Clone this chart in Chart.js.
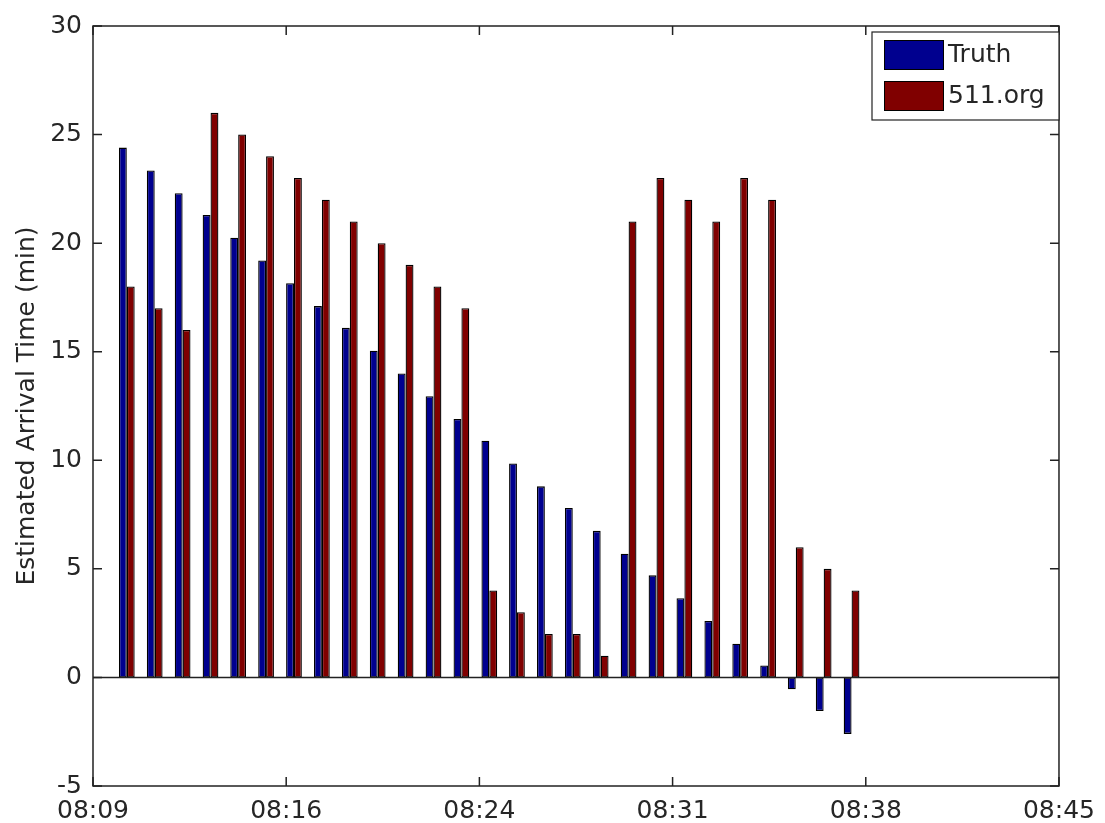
<!DOCTYPE html>
<html><head><meta charset="utf-8">
<script src="https://cdn.jsdelivr.net/npm/chart.js@4/dist/chart.umd.min.js"></script>
<style>html,body{margin:0;padding:0;background:#fff}#wrap{width:1105px;height:823px;position:relative}</style>
</head><body><div id="wrap"><canvas id="c"></canvas></div>
<script>
// minutes after 08:09 for each observation
const minutesAfter0809 = [1.26, 2.30, 3.34, 4.38, 5.41, 6.45, 7.49, 8.53, 9.57, 10.61, 11.65, 12.69, 13.73, 14.77, 15.80, 16.84, 17.88, 18.92, 19.96, 21.00, 22.04, 23.08, 24.12, 25.16, 26.19, 27.23, 28.27];
const truth = [24.4, 23.35, 22.3, 21.3, 20.25, 19.2, 18.15, 17.1, 16.1, 15.05, 14.0, 12.95, 11.9, 10.9, 9.85, 8.8, 7.8, 6.75, 5.7, 4.7, 3.65, 2.6, 1.55, 0.55, -0.55, -1.55, -2.6];
const org511 = [18, 17, 16, 26, 25, 24, 23, 22, 21, 20, 19, 18, 17, 4, 3, 2, 2, 1, 21, 23, 22, 21, 23, 22, 6, 5, 4];
const seriesNames = ['Truth', '511.org'];
const seriesColors = ['#00008f', '#800000'];
const xTickValues = [0, 7.2, 14.4, 21.6, 28.8, 36];
const xTickLabels = ['08:09', '08:16', '08:24', '08:31', '08:38', '08:45'];
const yMin = -5, yMax = 30, yStep = 5;
const yTitle = 'Estimated Arrival Time (min)';

const FONT = 'DejaVu Sans';
const TXT = '#262626';

const framePlugin = {
  id: 'frame',
  afterDatasetsDraw(chart) {
    const {ctx, chartArea: a, scales: {x, y}} = chart;
    ctx.save();
    const y0 = y.getPixelForValue(0);
    ctx.strokeStyle = '#222';
    ctx.lineWidth = 1.5;
    ctx.beginPath(); ctx.moveTo(a.left, y0); ctx.lineTo(a.right, y0); ctx.stroke();
    ctx.strokeRect(a.left, a.top, a.right - a.left, a.bottom - a.top);
    const L = 9;
    ctx.beginPath();
    y.ticks.forEach(t => {
      const py = y.getPixelForValue(t.value);
      ctx.moveTo(a.left, py); ctx.lineTo(a.left + L, py);
      ctx.moveTo(a.right, py); ctx.lineTo(a.right - L, py);
    });
    x.ticks.forEach(t => {
      const px = x.getPixelForValue(t.value);
      ctx.moveTo(px, a.bottom); ctx.lineTo(px, a.bottom - L);
      ctx.moveTo(px, a.top); ctx.lineTo(px, a.top + L);
    });
    ctx.stroke();
    // legend
    const bx = 872, by = 32, bw = 187, bh = 88;
    ctx.fillStyle = '#fff';
    ctx.fillRect(bx, by, bw, bh);
    ctx.lineWidth = 1.2;
    ctx.strokeStyle = '#222';
    ctx.strokeRect(bx, by, bw, bh);
    ctx.font = '25px "' + FONT + '"';
    ctx.textBaseline = 'middle';
    chart.data.datasets.forEach((ds, i) => {
      const sy = 40 + i * 41;
      ctx.fillStyle = ds.backgroundColor;
      ctx.fillRect(884, sy, 60, 30);
      ctx.lineWidth = 1;
      ctx.strokeStyle = '#000';
      ctx.strokeRect(884.5, sy + 0.5, 59, 29);
      ctx.fillStyle = TXT;
      ctx.fillText(ds.label, 948, sy + 15);
    });
    ctx.restore();
  }
};

new Chart(document.getElementById('c'), {
  type: 'bar',
  data: {
    datasets: [
      {label: seriesNames[0], data: minutesAfter0809.map((m, i) => ({x: m, y: truth[i]})), backgroundColor: seriesColors[0], borderColor: '#000', borderWidth: 1.3, borderSkipped: false},
      {label: seriesNames[1], data: minutesAfter0809.map((m, i) => ({x: m, y: org511[i]})), backgroundColor: seriesColors[1], borderColor: '#000', borderWidth: 1.3, borderSkipped: false}
    ]
  },
  options: {
    responsive: true,
    maintainAspectRatio: false,
    animation: false,
    categoryPercentage: 0.57,
    barPercentage: 1.0,
    layout: {padding: {left: 0, right: 39, top: 22, bottom: 0}},
    plugins: {legend: {display: false}, tooltip: {enabled: false}},
    scales: {
      x: {
        type: 'linear', min: 0, max: 36, offset: false,
        grid: {display: false, drawTicks: false, offset: false},
        border: {display: false},
        afterBuildTicks: s => { s.ticks = xTickValues.map(v => ({value: v})); },
        afterFit: s => { s.height = 37; },
        ticks: {
          autoSkip: false, maxRotation: 0, padding: 10, color: TXT,
          font: {family: FONT, size: 25},
          callback: (v, i) => xTickLabels[i]
        }
      },
      y: {
        min: yMin, max: yMax,
        grid: {display: false, drawTicks: false},
        border: {display: false},
        afterFit: s => { s.width = 93; },
        ticks: {stepSize: yStep, padding: 11, color: TXT, font: {family: FONT, size: 25}},
        title: {display: true, text: yTitle, color: TXT, font: {family: FONT, size: 25}, padding: {top: 12, bottom: 0}}
      }
    }
  },
  plugins: [framePlugin]
});
</script>
</body></html>
